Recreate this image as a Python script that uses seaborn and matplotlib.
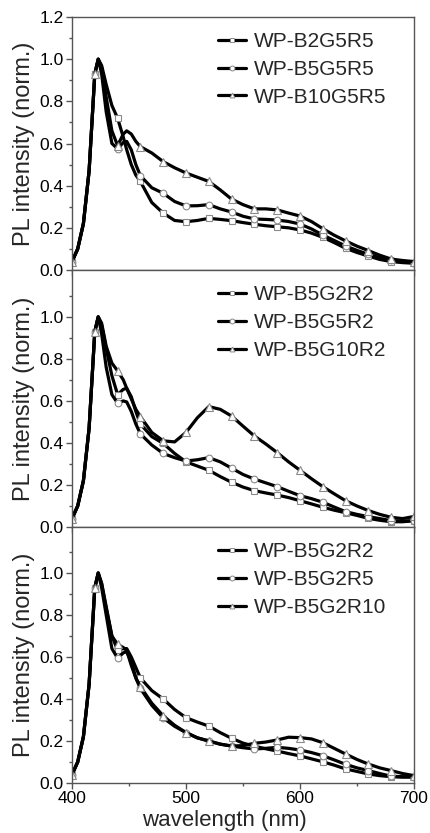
import matplotlib
matplotlib.use("Agg")
import matplotlib.pyplot as plt
import seaborn as sns
import pandas as pd
from matplotlib.lines import Line2D
from matplotlib.ticker import MultipleLocator, FormatStrFormatter, FixedLocator

sns.set_theme(style="ticks")
plt.rcParams['font.family'] = ['Liberation Sans', 'DejaVu Sans']

wavelength = [400, 405, 410, 415, 420, 423, 426, 430, 435, 440, 445, 448, 452, 456, 460,
              470, 480, 490, 500, 510, 520, 530, 540, 550, 560, 570, 580, 590, 600,
              610, 620, 630, 640, 650, 660, 670, 680, 690, 700]

rise = [0.04, 0.10, 0.22, 0.47, 0.93, 1.00]

# Panel 1
p1_labels = ["WP-B2G5R5", "WP-B5G5R5", "WP-B10G5R5"]
p1_b2g5r5 = rise + [0.97, 0.88, 0.78, 0.72, 0.63, 0.57, 0.50, 0.45, 0.42,
                    0.32, 0.27, 0.235, 0.229, 0.235, 0.245, 0.24, 0.234, 0.225, 0.217, 0.21,
                    0.205, 0.20, 0.19, 0.175, 0.155, 0.13, 0.103, 0.083, 0.066, 0.05, 0.04,
                    0.035, 0.032]
p1_b5g5r5 = rise + [0.93, 0.75, 0.60, 0.575, 0.605, 0.61, 0.57, 0.50, 0.447,
                    0.39, 0.364, 0.325, 0.304, 0.305, 0.31, 0.29, 0.275, 0.255, 0.242, 0.24,
                    0.237, 0.23, 0.218, 0.195, 0.166, 0.14, 0.114, 0.093, 0.074, 0.058, 0.047,
                    0.04, 0.035]
p1_b10g5r5 = rise + [0.96, 0.82, 0.66, 0.59, 0.645, 0.66, 0.645, 0.61, 0.585,
                     0.555, 0.514, 0.485, 0.46, 0.44, 0.42, 0.38, 0.336, 0.31, 0.29, 0.29,
                     0.285, 0.27, 0.256, 0.23, 0.196, 0.165, 0.138, 0.113, 0.092, 0.07, 0.052,
                     0.045, 0.04]

# Panel 2
p2_labels = ["WP-B5G2R2", "WP-B5G5R2", "WP-B5G10R2"]
p2_b5g2r2 = rise + [0.96, 0.85, 0.72, 0.63, 0.655, 0.66, 0.62, 0.55, 0.49,
                    0.43, 0.398, 0.35, 0.31, 0.29, 0.27, 0.24, 0.213, 0.19, 0.173, 0.162,
                    0.152, 0.14, 0.125, 0.11, 0.094, 0.08, 0.068, 0.055, 0.041, 0.032, 0.025,
                    0.025, 0.03]
p2_b5g5r2 = rise + [0.92, 0.76, 0.63, 0.589, 0.60, 0.595, 0.55, 0.49, 0.443,
                    0.39, 0.35, 0.33, 0.314, 0.32, 0.33, 0.31, 0.28, 0.25, 0.228, 0.21,
                    0.192, 0.17, 0.149, 0.135, 0.118, 0.095, 0.073, 0.06, 0.049, 0.04, 0.03,
                    0.028, 0.03]
p2_b5g10r2 = rise + [0.97, 0.86, 0.78, 0.743, 0.70, 0.66, 0.61, 0.56, 0.525,
                     0.45, 0.41, 0.405, 0.45, 0.52, 0.573, 0.56, 0.528, 0.48, 0.433, 0.395,
                     0.354, 0.31, 0.27, 0.23, 0.192, 0.158, 0.125, 0.10, 0.078, 0.06, 0.046,
                     0.04, 0.05]

# Panel 3
p3_labels = ["WP-B5G2R2", "WP-B5G2R5", "WP-B5G2R10"]
p3_b5g2r2 = rise + [0.95, 0.84, 0.70, 0.633, 0.64, 0.64, 0.60, 0.55, 0.50,
                    0.44, 0.40, 0.35, 0.311, 0.29, 0.271, 0.24, 0.213, 0.19, 0.175, 0.163,
                    0.152, 0.14, 0.129, 0.115, 0.101, 0.085, 0.067, 0.055, 0.043, 0.035, 0.03,
                    0.028, 0.028]
p3_b5g2r5 = rise + [0.93, 0.80, 0.64, 0.594, 0.62, 0.625, 0.58, 0.50, 0.45,
                    0.37, 0.31, 0.27, 0.24, 0.215, 0.20, 0.185, 0.176, 0.168, 0.162, 0.165,
                    0.17, 0.165, 0.157, 0.145, 0.13, 0.11, 0.089, 0.072, 0.059, 0.045, 0.032,
                    0.03, 0.03]
p3_b5g2r10 = rise + [0.95, 0.83, 0.70, 0.66, 0.645, 0.63, 0.56, 0.50, 0.459,
                     0.38, 0.32, 0.275, 0.24, 0.215, 0.20, 0.185, 0.176, 0.178, 0.189, 0.195,
                     0.205, 0.218, 0.216, 0.21, 0.192, 0.165, 0.138, 0.112, 0.09, 0.072, 0.059,
                     0.045, 0.035]

panels = [
    (p1_labels, [p1_b2g5r5, p1_b5g5r5, p1_b10g5r5], 1.2),
    (p2_labels, [p2_b5g2r2, p2_b5g5r2, p2_b5g10r2], 1.223),
    (p3_labels, [p3_b5g2r2, p3_b5g2r5, p3_b5g2r10], 1.219),
]
markers = ["s", "o", "^"]
msizes = [4.2, 4.8, 5.5]
mark_idx = [i for i, w in enumerate(wavelength) if w % 20 == 0]

fig = plt.figure(figsize=(4.31, 8.33), dpi=100)
gs = fig.add_gridspec(3, 1, left=72/431, right=414/431, top=1-17/833, bottom=1-783/833,
                      hspace=0, height_ratios=[253, 257, 256])
spine_col = "#555555"
mec = "#8a8a8a"
for k, (labels, series, ytop) in enumerate(panels):
    ax = fig.add_subplot(gs[k])
    for lab, vals, m, ms in zip(labels, series, markers, msizes):
        df = pd.DataFrame({"wl": wavelength, "v": vals})
        sns.lineplot(data=df, x="wl", y="v", ax=ax, color="black", lw=2.3,
                     marker=m, markevery=mark_idx, ms=ms, mfc="white", mec=mec,
                     mew=0.8, solid_joinstyle="round", legend=False)
    ax.set_xlim(400, 700)
    ax.set_ylim(0, ytop)
    ax.xaxis.set_major_locator(MultipleLocator(100))
    ax.xaxis.set_minor_locator(MultipleLocator(50))
    if k == 0:
        ax.yaxis.set_major_locator(FixedLocator([0, 0.2, 0.4, 0.6, 0.8, 1.0, 1.2]))
    else:
        ax.yaxis.set_major_locator(FixedLocator([0, 0.2, 0.4, 0.6, 0.8, 1.0]))
    ax.yaxis.set_minor_locator(FixedLocator([0.1, 0.3, 0.5, 0.7, 0.9, 1.1]))
    ax.yaxis.set_major_formatter(FormatStrFormatter("%.1f"))
    ax.tick_params(which="major", direction="out", length=4, width=1, color=spine_col,
                   labelsize=12.5, pad=2, labelcolor="black")
    ax.tick_params(which="minor", direction="out", length=2.5, width=1, color=spine_col)
    for sp in ax.spines.values():
        sp.set_color(spine_col)
        sp.set_linewidth(1)
    ax.set_ylabel("PL intensity (norm.)", fontsize=17, labelpad=3)
    if k < 2:
        ax.set_xlabel("")
        ax.tick_params(axis="x", labelbottom=False)
    else:
        ax.set_xlabel("wavelength (nm)", fontsize=16)
        ax.xaxis.set_label_coords(0.447, -0.105)
    handles = [Line2D([], [], color="black", lw=2.3, marker=m, ms=3.5, mfc="white",
                      mec=mec, mew=0.7) for m in markers]
    ax.legend(handles, labels, loc="upper left", bbox_to_anchor=(0.427, 0.94),
              frameon=False, fontsize=15, handlelength=1.35, handletextpad=0.35,
              labelspacing=0.42, borderpad=0, borderaxespad=0)

fig.savefig("out.png", dpi=100)
